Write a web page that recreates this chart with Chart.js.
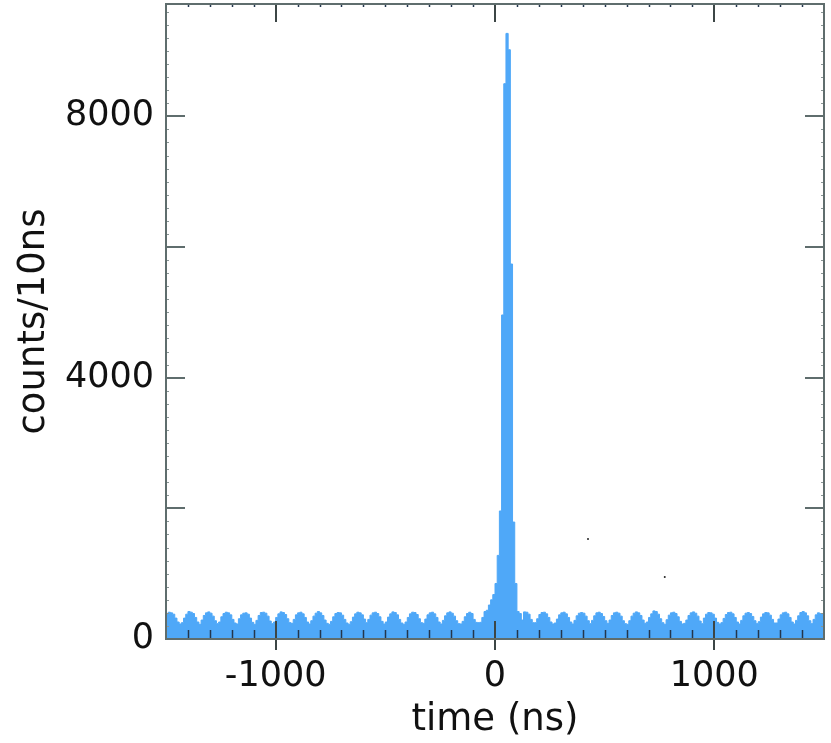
<!DOCTYPE html>
<html lang="en">
<head>
<meta charset="UTF-8">
<title>counts/10ns vs time</title>
<script src="https://cdn.jsdelivr.net/npm/chart.js"></script>
<style>
  html, body { margin: 0; padding: 0; background: #fff; }
</style>
</head>
<body>
<canvas id="histChart" width="831" height="743"></canvas>
<script>
// histogram: 10 ns bins from -1500 to 1500 ns
const binStart = -1500;
const binWidth = 10;
const counts = [
  340, 390, 410, 400, 380, 320, 260, 230, 250, 320,
  380, 420, 410, 390, 330, 260, 225, 290, 360, 400,
  415, 395, 350, 280, 235, 260, 340, 390, 410, 400,
  370, 300, 245, 230, 310, 370, 395, 400, 380, 320,
  255, 225, 285, 360, 405, 410, 395, 350, 275, 235,
  260, 330, 385, 415, 405, 375, 310, 250, 240, 300,
  370, 400, 410, 385, 330, 260, 230, 280, 350, 395,
  420, 400, 360, 290, 240, 225, 270, 340, 390, 405,
  400, 365, 300, 245, 225, 265, 335, 385, 410, 400,
  370, 305, 250, 300, 365, 400, 410, 390, 340, 270,
  230, 260, 335, 385, 415, 405, 370, 300, 245, 225,
  260, 330, 385, 410, 405, 375, 310, 250, 240, 305,
  370, 400, 410, 385, 330, 260, 230, 285, 355, 400,
  415, 395, 350, 280, 235, 230, 270, 340, 390, 410,
  390, 300, 255, 250, 255, 330, 420, 440, 520, 600,
  680, 850, 1280, 1960, 4960, 8500, 9270, 9020, 5740, 1790,
  850, 420, 390, 290, 415, 410, 380, 300, 250, 250,
  310, 375, 405, 410, 385, 330, 260, 230, 245, 305,
  370, 400, 410, 385, 330, 260, 230, 285, 355, 395,
  405, 395, 350, 280, 235, 285, 355, 400, 410, 390,
  345, 280, 240, 290, 360, 400, 410, 395, 350, 280,
  235, 225, 280, 350, 395, 415, 400, 360, 290, 240,
  260, 330, 385, 430, 420, 380, 310, 250, 225, 295,
  365, 400, 410, 390, 340, 270, 230, 240, 290, 360,
  400, 415, 395, 350, 275, 235, 320, 380, 405, 400,
  380, 320, 255, 230, 250, 315, 375, 405, 410, 385,
  330, 260, 230, 285, 355, 395, 405, 390, 345, 280,
  235, 265, 335, 385, 405, 400, 365, 300, 245, 245,
  305, 370, 400, 410, 385, 330, 260, 230, 285, 355,
  405, 420, 400, 355, 280, 235, 300, 370, 400, 390
];
// two stray specks in the plot area
const strayX = [424, 774];
const strayY = [1530, 950];

const xMin = -1500, xMax = 1500;
const yMin = 0, yMax = 9720;
const xTickValues = [-1000, 0, 1000];
const xMinorStep = 100;
const yTickValues = [0, 4000, 8000];
const yMajorTicks = [0, 2000, 4000, 6000, 8000];
const yMinorStep = 200;

// step points at bin edges (stepped: 'after')
const histPoints = counts.map((c, i) => ({ x: binStart + i * binWidth, y: c }));
histPoints.push({ x: binStart + counts.length * binWidth, y: counts[counts.length - 1] });

const fontFamily = '"DejaVu Sans", Verdana, sans-serif';
const fillColor = '#4fa8f8';
const frameColor = '#5f6d6d';

// frame box and inward ticks, drawn over the histogram
const frameTicks = {
  id: 'frameTicks',
  afterDatasetsDraw(chart) {
    const { ctx, chartArea: a, scales: { x, y } } = chart;
    const line = (x1, y1, x2, y2) => {
      ctx.beginPath(); ctx.moveTo(x1, y1); ctx.lineTo(x2, y2); ctx.stroke();
    };
    ctx.save();
    // minor x ticks
    ctx.strokeStyle = '#23364d';
    ctx.lineWidth = 1.5;
    for (let v = xMin + xMinorStep; v < xMax; v += xMinorStep) {
      if (xTickValues.includes(v)) continue;
      const px = Math.round(x.getPixelForValue(v)) + 0.5;
      line(px, a.bottom, px, a.bottom - 9);
      line(px, a.top, px, a.top + 3);
    }
    // minor y ticks
    ctx.strokeStyle = '#8a9696';
    ctx.lineWidth = 1;
    for (let v = yMinorStep; v < yMax; v += yMinorStep) {
      if (yMajorTicks.includes(v)) continue;
      const py = Math.round(y.getPixelForValue(v)) + 0.5;
      line(a.left, py, a.left + 3, py);
      line(a.right, py, a.right - 3, py);
    }
    // major ticks
    ctx.strokeStyle = '#3c4646';
    ctx.lineWidth = 2;
    xTickValues.forEach(v => {
      const px = Math.round(x.getPixelForValue(v));
      line(px, a.bottom + 11, px, a.bottom - 18);
      line(px, a.top, px, a.top + 18);
    });
    ctx.strokeStyle = frameColor;
    yMajorTicks.forEach(v => {
      const py = Math.round(y.getPixelForValue(v));
      line(a.left, py, a.left + 19, py);
      line(a.right, py, a.right - 19, py);
    });
    // frame
    ctx.strokeStyle = frameColor;
    ctx.lineWidth = 2;
    ctx.strokeRect(a.left, a.top, a.right - a.left, a.bottom - a.top);
    ctx.restore();
  }
};

new Chart(document.getElementById('histChart'), {
  type: 'line',
  data: {
    datasets: [{
      data: histPoints,
      stepped: 'after',
      fill: 'origin',
      backgroundColor: fillColor,
      borderColor: fillColor,
      borderWidth: 1,
      pointRadius: 0
    }, {
      type: 'scatter',
      data: strayX.map((v, i) => ({ x: v, y: strayY[i] })),
      pointRadius: 1,
      pointBorderWidth: 0,
      pointBackgroundColor: '#222',
      showLine: false
    }]
  },
  options: {
    responsive: false,
    animation: false,
    devicePixelRatio: 1,
    layout: { padding: { top: 3, right: 7, left: 0, bottom: 0 } },
    plugins: { legend: { display: false }, tooltip: { enabled: false } },
    scales: {
      x: {
        type: 'linear',
        min: xMin,
        max: xMax,
        afterBuildTicks: s => { s.ticks = xTickValues.map(v => ({ value: v })); },
        afterFit: s => { s.height = 104; s.paddingLeft = 0; s.paddingRight = 0; },
        grid: { display: false },
        border: { display: false },
        ticks: {
          font: { family: fontFamily, size: 35 },
          color: '#111',
          padding: 9,
          maxRotation: 0,
          autoSkip: false,
          callback: v => String(v)
        },
        title: {
          display: true,
          text: 'time (ns)',
          color: '#111',
          font: { family: fontFamily, size: 37 },
          padding: { top: 0, bottom: 0 }
        }
      },
      y: {
        type: 'linear',
        min: yMin,
        max: yMax,
        afterBuildTicks: s => { s.ticks = yTickValues.map(v => ({ value: v })); },
        afterFit: s => { s.width = 166; s.paddingTop = 0; s.paddingBottom = 0; },
        grid: { display: false },
        border: { display: false },
        ticks: {
          font: { family: fontFamily, size: 35 },
          color: '#111',
          padding: 4,
          callback: v => String(v)
        },
        title: {
          display: true,
          text: 'counts/10ns',
          color: '#111',
          font: { family: fontFamily, size: 37 },
          padding: { top: 12, bottom: 0 }
        }
      }
    }
  },
  plugins: [frameTicks]
});
</script>
</body>
</html>
